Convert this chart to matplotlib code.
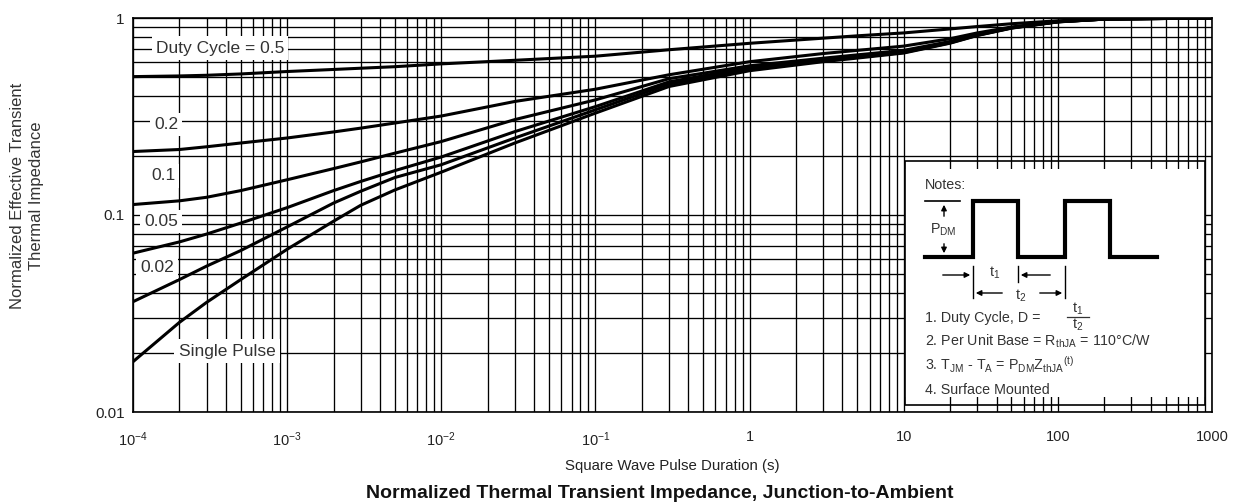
import matplotlib
matplotlib.use("Agg")
import matplotlib.pyplot as plt
from matplotlib.patches import Rectangle, FancyArrowPatch
from matplotlib.lines import Line2D
from matplotlib.ticker import FixedLocator, NullFormatter

plt.rcParams['font.family'] = ['Liberation Sans', 'DejaVu Sans']
plt.rcParams['mathtext.fontset'] = 'custom'
plt.rcParams['mathtext.rm'] = 'Liberation Sans'
plt.rcParams['mathtext.it'] = 'Liberation Sans:italic'
plt.rcParams['mathtext.default'] = 'regular'

# ---------------- data ----------------
pulse_s = [1e-4, 2e-4, 3e-4, 5e-4, 1e-3, 2e-3, 3e-3, 5e-3, 1e-2, 3e-2,
           0.1, 0.3, 1, 3, 5, 10, 20, 30, 50, 100, 200, 1000]
z_d05 = [0.504, 0.508, 0.512, 0.52, 0.535, 0.548, 0.556, 0.566, 0.585, 0.61,
         0.64, 0.69, 0.744, 0.79, 0.812, 0.84, 0.88, 0.905, 0.935, 0.968, 0.99, 1.0]
z_d02 = [0.21, 0.215, 0.222, 0.232, 0.246, 0.264, 0.276, 0.293, 0.318, 0.377,
         0.435, 0.515, 0.6, 0.66, 0.685, 0.72, 0.785, 0.84, 0.9, 0.96, 0.988, 1.0]
z_d01 = [0.113, 0.118, 0.123, 0.133, 0.151, 0.172, 0.186, 0.206, 0.236, 0.305,
         0.384, 0.492, 0.572, 0.625, 0.65, 0.685, 0.76, 0.825, 0.895, 0.958, 0.987, 1.0]
z_d005 = [0.064, 0.073, 0.08, 0.091, 0.109, 0.133, 0.148, 0.168, 0.197, 0.265,
          0.355, 0.474, 0.56, 0.615, 0.64, 0.675, 0.752, 0.82, 0.892, 0.957, 0.987, 1.0]
z_d002 = [0.0363, 0.047, 0.055, 0.066, 0.087, 0.115, 0.132, 0.155, 0.18, 0.246,
          0.342, 0.462, 0.55, 0.607, 0.632, 0.668, 0.748, 0.817, 0.89, 0.956, 0.987, 1.0]
z_single = [0.018, 0.0285, 0.036, 0.047, 0.067, 0.093, 0.112, 0.134, 0.165, 0.232,
            0.329, 0.449, 0.54, 0.6, 0.626, 0.664, 0.745, 0.815, 0.888, 0.955, 0.987, 1.0]
series = [z_d05, z_d02, z_d01, z_d005, z_d002, z_single]

curve_labels = ["Duty Cycle = 0.5", "0.2", "0.1", "0.05", "0.02", "Single Pulse"]
label_pos = [(3.67e-4, 0.704), (1.64e-4, 0.287), (1.57e-4, 0.158), (1.52e-4, 0.0927),
             (1.43e-4, 0.0542), (4.07e-4, 0.0204)]

x_ticks = [1e-4, 1e-3, 1e-2, 1e-1, 1, 10, 100, 1000]
x_ticklabels = ["$10^{-4}$", "$10^{-3}$", "$10^{-2}$", "$10^{-1}$", "1", "10", "100", "1000"]
y_ticks = [0.01, 0.1, 1]
y_ticklabels = ["0.01", "0.1", "1"]

# ---------------- figure ----------------
W, H = 1252, 504
fig = plt.figure(figsize=(W / 100, H / 100), dpi=100)
ax = fig.add_axes([133 / W, 1 - 412 / H, (1212 - 133) / W, (412 - 18) / H])

def P(px, py):
    """reference pixel -> figure fraction"""
    return px / W, 1 - py / H

ax.set_xscale('log')
ax.set_yscale('log')
ax.set_xlim(1e-4, 1000)
ax.set_ylim(0.01, 1)

ax.grid(True, which='both', color='black', lw=0.95, zorder=1)
ax.set_axisbelow(True)
ax.xaxis.set_major_locator(FixedLocator(x_ticks))
ax.yaxis.set_major_locator(FixedLocator(y_ticks))
ax.set_xticklabels(x_ticklabels)
ax.set_yticklabels(y_ticklabels)
ax.xaxis.set_minor_formatter(NullFormatter())
ax.yaxis.set_minor_formatter(NullFormatter())
ax.tick_params(which='both', length=0)
ax.tick_params(axis='x', pad=13, labelsize=10.5, labelcolor='#222222')
ax.tick_params(axis='y', pad=6, labelsize=11, labelcolor='#222222')
for sp in ax.spines.values():
    sp.set_linewidth(1.2)
    sp.set_color('black')

for ys in series:
    ax.plot(pulse_s, ys, color='black', lw=2.2, zorder=3,
            solid_capstyle='butt', solid_joinstyle='round')

for txt, (xx, yy) in zip(curve_labels, label_pos):
    ax.text(xx, yy, txt, ha='center', va='center', fontsize=12.5, color='#333333',
            zorder=4, bbox=dict(facecolor='white', edgecolor='none', pad=3))

# ---------------- notes box ----------------
ax_l, ax_b = 133, 412
ax_w, ax_h = 1212 - 133, 412 - 18
def A(px, py):
    return (px - ax_l) / ax_w, (ax_b - py) / ax_h

bx0, bx1, by0, by1 = 905, 1205, 161, 405
x0, y0 = A(bx0, by1)
x1, y1 = A(bx1, by0)
ax.add_patch(Rectangle((x0, y0), x1 - x0, y1 - y0, transform=ax.transAxes,
                       facecolor='none', edgecolor='black', lw=1.2, zorder=7))
fx0, fy0 = A(bx0, by1 - 8)
fx1, fy1 = A(bx1, by0 + 8)
ax.add_patch(Rectangle((fx0, fy0), fx1 - fx0, fy1 - fy0, transform=ax.transAxes,
                       facecolor='white', edgecolor='none', zorder=6))

tc = '#333333'
nfs = 10.3
fig.text(*P(925, 185), "Notes:", fontsize=nfs, color=tc, va='center', ha='left', zorder=8)

# waveform
base, high = 257, 201
wx = [925, 973, 973, 1018, 1018, 1065, 1065, 1110, 1110, 1157]
wy = [base, base, high, high, base, base, high, high, base, base]
fig.add_artist(Line2D([P(a, b)[0] for a, b in zip(wx, wy)],
                      [P(a, b)[1] for a, b in zip(wx, wy)],
                      color='black', lw=3, zorder=8, solid_joinstyle='miter'))
fig.add_artist(Line2D([P(925, 0)[0], P(960, 0)[0]], [P(0, high)[1]] * 2,
                      color='black', lw=1.2, zorder=8))
arrow_kw = dict(arrowstyle='-|>', color='black', lw=1, mutation_scale=8)
def arrow(a, b):
    fig.patches.append(FancyArrowPatch(P(*a), P(*b), transform=fig.transFigure, **arrow_kw))
arrow((944, 219), (944, high + 1))
arrow((944, 241), (944, base - 1))
fig.text(*P(943, 230), "P$_{DM}$", fontsize=nfs, color=tc, ha='center', va='center', zorder=9)

# t1 / t2 dimension marks
for xv, ya, yb in [(973, 266, 298), (1018, 266, 282), (1065, 266, 298)]:
    fig.add_artist(Line2D([P(xv, 0)[0]] * 2, [P(0, ya)[1], P(0, yb)[1]],
                          color='black', lw=1, zorder=8))
arrow((940, 275), (973, 275))
arrow((1053, 275), (1018, 275))
fig.text(*P(995, 273), "t$_1$", fontsize=nfs, color=tc, ha='center', va='center')
arrow((1005, 293), (973, 293))
arrow((1037, 293), (1065, 293))
fig.text(*P(1021, 296), "t$_2$", fontsize=nfs, color=tc, ha='center', va='center')

# note lines
fig.text(*P(925, 318), "1. Duty Cycle, D =", fontsize=nfs, color=tc, ha='left', va='center')
fig.text(*P(1078, 309), "t$_1$", fontsize=nfs, color=tc, ha='center', va='center')
fig.add_artist(Line2D([P(1067, 0)[0], P(1089, 0)[0]], [P(0, 317)[1]] * 2,
                      color='#333333', lw=0.9))
fig.text(*P(1078, 325), "t$_2$", fontsize=nfs, color=tc, ha='center', va='center')
fig.text(*P(925, 341), "2. Per Unit Base = R$_{thJA}$ = 110°C/W", fontsize=nfs, color=tc,
         ha='left', va='center')
fig.text(*P(925, 365), "3. T$_{JM}$ - T$_{A}$ = P$_{DM}$Z$_{thJA}$$^{(t)}$", fontsize=nfs,
         color=tc, ha='left', va='center')
fig.text(*P(925, 390), "4. Surface Mounted", fontsize=nfs, color=tc, ha='left', va='center')

# ---------------- axis labels / title ----------------
fig.text(*P(27, 196), "Normalized Effective Transient\nThermal Impedance", rotation=90,
         ha='center', va='center', fontsize=12, color='#333333', linespacing=1.35)
fig.text(*P(672, 466), "Square Wave Pulse Duration (s)", ha='center', va='center',
         fontsize=10.8, color='#222222')
fig.text(*P(660, 493), "Normalized Thermal Transient Impedance, Junction-to-Ambient",
         ha='center', va='center', fontsize=14, fontweight='bold', color='#111111')

fig.savefig("out.png", dpi=100, facecolor='white')
